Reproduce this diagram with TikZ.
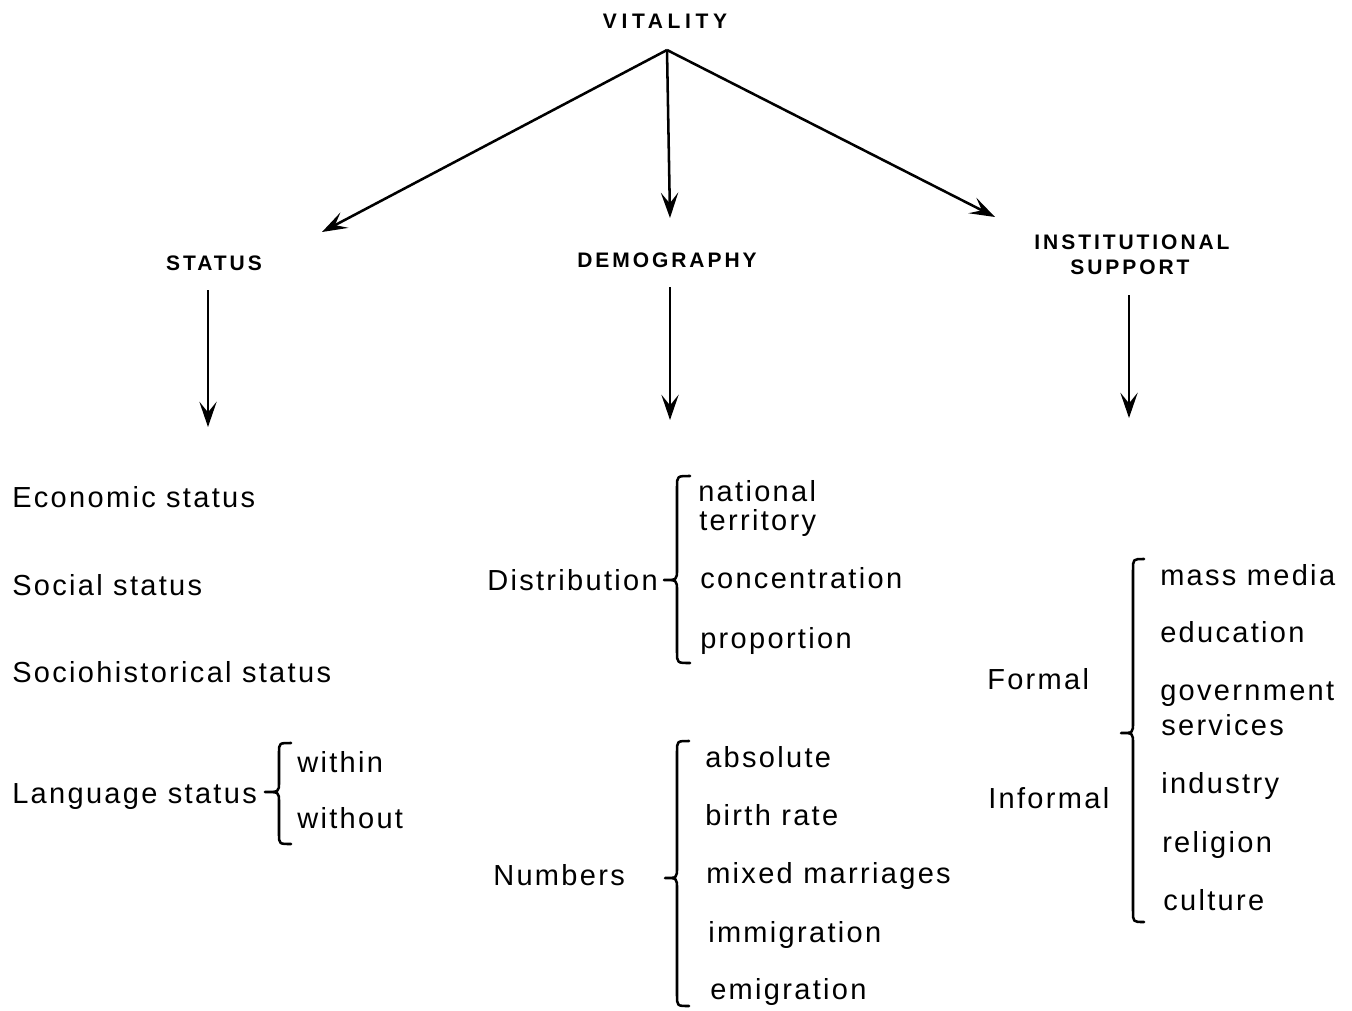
\documentclass[tikz,border=0pt]{standalone}
\usepackage{fontspec}
\setmainfont{Liberation Sans}
\newfontfamily\lowf[LetterSpace=8]{Liberation Sans}
\newfontfamily\capf[LetterSpace=14]{Liberation Sans Bold}
\usetikzlibrary{arrows.meta}
\tikzset{
  lab/.style={font=\lowf\fontsize{21.75}{26}\selectfont, inner sep=0pt, anchor=base west},
  head/.style={font=\capf\fontsize{15.75}{19}\selectfont, inner sep=0pt, anchor=base},
  conn/.style={line width=1.9pt, -{Stealth[length=19pt,width=13pt,inset=8pt]}},
  brc/.style={line width=1.9pt, line cap=round, line join=round},
}
\newcommand{\mybrace}[7]{% tip x, tip y, line x, end x, top y, bottom y, r
  \draw[brc] (#4,#5) .. controls (#3,#5) .. (#3,#5+#7) -- (#3,#2-#7)
    .. controls (#3,#2) .. (#1,#2) .. controls (#3,#2) .. (#3,#2+#7)
    -- (#3,#6-#7) .. controls (#3,#6) .. (#4,#6);}
\begin{document}
\begin{tikzpicture}[x=0.75pt,y=-0.75pt]
\useasboundingbox (0,0) rectangle (1352,1010);

% headings
\node[head, font=\capf\fontsize{15.75}{19}\selectfont\addfontfeature{LetterSpace=22}] (vit) at (665,28) {VITALITY};
\node[head] (stat) at (214,270) {STATUS};
\node[head] (demo) at (667,267) {DEMOGRAPHY};
\node[head] (inst) at (1132,249) {INSTITUTIONAL};
\node[head] (supp) at (1130,274) {SUPPORT};

% top arrows
\coordinate (apex) at (667,50);
\coordinate (aS) at (322,232);
\coordinate (aD) at (670,218);
\coordinate (aI) at (995,217);
\draw[conn] (apex) -- (aS);
\draw[conn] (apex) -- (aD);
\draw[conn] (apex) -- (aI);

% vertical arrows
\coordinate (s1) at (208,290); \coordinate (s2) at (208,427);
\coordinate (d1) at (670,287); \coordinate (d2) at (670,420);
\coordinate (i1) at (1129,295); \coordinate (i2) at (1129,418);
\draw[conn] (s1) -- (s2);
\draw[conn] (d1) -- (d2);
\draw[conn] (i1) -- (i2);

% status column
\node[lab] (econ) at (12,507) {Economic status};
\node[lab] (soc) at (12,595) {Social status};
\node[lab] (hist) at (12,682) {Sociohistorical status};
\node[lab] (lang) at (12,803) {Language status};
\node[lab] (within) at (297,772) {within};
\node[lab] (without) at (297,828) {without};
\mybrace{265}{792}{279}{291}{743}{844}{10}

% demography column
\node[lab] (distr) at (487,590) {Distribution};
\node[lab] (nat) at (698,501) {national};
\node[lab] (terr) at (699,530) {territory};
\node[lab] (conc) at (700,588) {concentration};
\node[lab] (prop) at (700,648) {proportion};
\mybrace{664}{580}{677}{690}{476}{663}{11}

\node[lab] (num) at (493,885) {Numbers};
\node[lab] (abs) at (705,767) {absolute};
\node[lab] (birth) at (705,825) {birth rate};
\node[lab] (mixed) at (706,883) {mixed marriages};
\node[lab] (immi) at (708,942) {immigration};
\node[lab] (emi) at (710,999) {emigration};
\mybrace{665}{878}{677}{689}{741}{1006}{11}

% institutional support column
\node[lab] (formal) at (987,689) {Formal};
\node[lab] (informal) at (988,808) {Informal};
\node[lab] (mass) at (1160,585) {mass media};
\node[lab] (edu) at (1160,642) {education};
\node[lab] (gov) at (1160,700) {government};
\node[lab] (serv) at (1161,735) {services};
\node[lab] (ind) at (1161,793) {industry};
\node[lab] (rel) at (1162,852) {religion};
\node[lab] (cult) at (1163,910) {culture};
\mybrace{1121}{733}{1133}{1144}{559}{922}{11}
\end{tikzpicture}
\end{document}
